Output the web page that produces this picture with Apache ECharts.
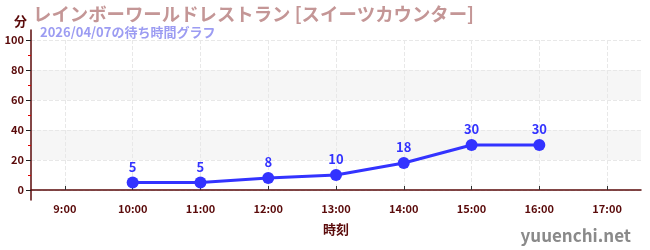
<!DOCTYPE html>
<html><head><meta charset="utf-8">
<script src="https://cdn.jsdelivr.net/npm/echarts@6/dist/echarts.min.js"></script>
<style>html,body{margin:0;padding:0;background:#fff}#c{width:650px;height:250px}</style>
</head><body><div id="c"></div>
<script>
const titleText = 'レインボーワールドレストラン [スイーツカウンター]';
const subText = '2026/04/07の待ち時間グラフ';
const categories = ['9:00','10:00','11:00','12:00','13:00','14:00','15:00','16:00','17:00'];
const waits = [null, 5, 5, 8, 10, 18, 30, 30, null];
const yTicks = [0, 20, 40, 60, 80, 100];

const axisColor = '#5a0a0a';
const font = '"Noto Sans CJK JP", "Noto Sans", sans-serif';
const chart = echarts.init(document.getElementById('c'), null, {renderer:'canvas'});
chart.setOption({
  animation:false,
  title:[{
    text:titleText, left:28, top:0,
    textStyle:{color:'#c49696', fontSize:18.4, fontWeight:'bold', fontFamily:font}
  },{
    text:subText, left:35, top:21,
    textStyle:{color:'#9c9cf2', fontSize:13, fontWeight:'bold', fontFamily:font}
  },{
    text:'yuuenchi.net', right:14, top:222,
    textStyle:{color:'#8a8a8a', fontSize:17, fontWeight:'bold', fontFamily:font}
  }],
  grid:[
    {left:31, right:9, top:40, bottom:60},
    {left:31, right:9, top:30, bottom:50}
  ],
  xAxis:[{
    type:'category', data:categories, gridIndex:0, boundaryGap:true,
    position:'bottom', offset:10,
    name:'時刻', nameLocation:'middle', nameGap:23,
    nameTextStyle:{color:axisColor, fontSize:13, fontWeight:'bold', fontFamily:font},
    axisLine:{show:true, lineStyle:{color:axisColor, width:1.5}},
    axisTick:{show:true, alignWithLabel:true, inside:true, length:4, lineStyle:{color:'#333'}},
    axisLabel:{color:axisColor, fontSize:11, fontWeight:'bold', fontFamily:font, margin:3},
    splitLine:{show:true, alignWithLabel:true, lineStyle:{color:'#e8e8e8', type:'dashed'}}
  },{
    type:'category', data:categories, gridIndex:1, show:false
  }],
  yAxis:[{
    type:'value', gridIndex:0, min:0, max:100, interval:20,
    name:'分', nameLocation:'end', nameGap:12,
    nameTextStyle:{color:axisColor, fontSize:13, fontWeight:'bold', fontFamily:font, align:'right', padding:[0,4,0,0]},
    axisLine:{show:false},
    axisTick:{show:true, length:5, lineStyle:{color:'#222'}},
    minorTick:{show:true, splitNumber:2, length:3, lineStyle:{color:'#e00000'}},
    axisLabel:{color:axisColor, fontSize:11, fontWeight:'bold', fontFamily:font, margin:7},
    splitLine:{show:true, lineStyle:{color:'#e8e8e8', type:'dashed'}},
    splitArea:{show:true, areaStyle:{color:['rgba(255,255,255,0)','#f6f6f6']}}
  },{
    type:'value', gridIndex:1, min:0, max:1,
    axisLine:{show:true, lineStyle:{color:axisColor, width:1.5}},
    axisTick:{show:false}, axisLabel:{show:false}, splitLine:{show:false}
  }],
  series:[{
    type:'line', xAxisIndex:0, yAxisIndex:0, data:waits,
    connectNulls:false,
    symbol:'circle', symbolSize:12,
    itemStyle:{color:'#3333ff'},
    lineStyle:{color:'#3333ff', width:3},
    label:{show:true, position:'top', distance:3, color:'#3333ff', fontSize:13, fontWeight:'bold', fontFamily:font}
  }]
});
</script></body></html>
